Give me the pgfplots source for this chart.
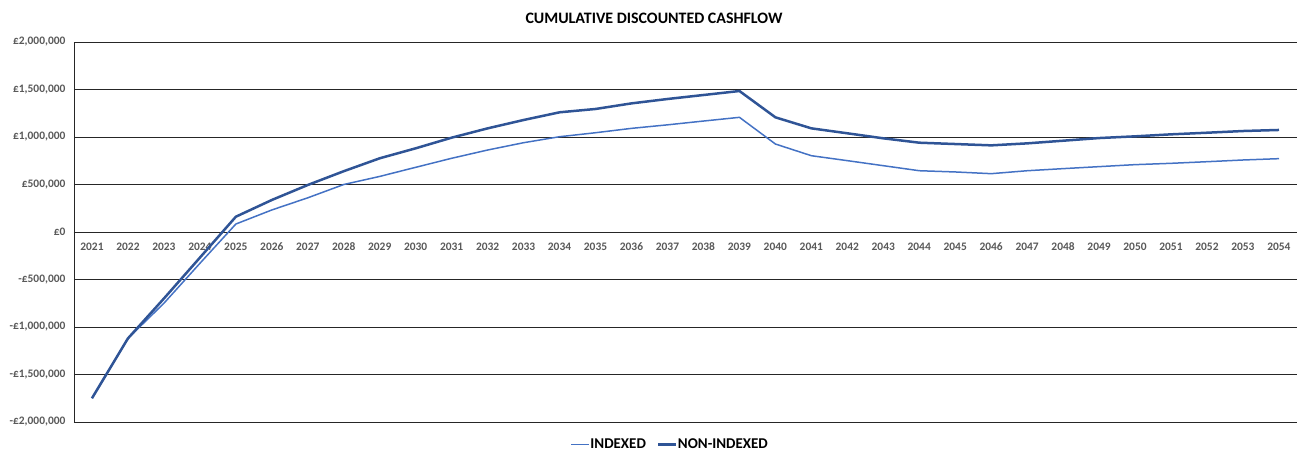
\documentclass[border=0pt]{standalone}
\usepackage{fontspec}
\setmainfont{Carlito}
\usepackage{pgfplots}
\pgfplotsset{compat=1.18}
\definecolor{lightline}{HTML}{4472C4}
\definecolor{darkline}{HTML}{2F5496}
\definecolor{ticktext}{HTML}{595959}
\begin{document}
\begin{tikzpicture}
\begin{axis}[
  scale only axis,
  width=1223bp, height=380bp,
  xmin=2020.5, xmax=2054.5,
  ymin=-2000000, ymax=2000000,
  scaled ticks=false,
  axis x line=middle, axis y line=left,
  axis line style={-, black!85, line width=0.8bp},
  xtick={2021,...,2054},
  ytick={-2000000,-1500000,-1000000,-500000,0,500000,1000000,1500000,2000000},
  yticklabels={{-£2,000,000},{-£1,500,000},{-£1,000,000},{-£500,000},{£0},{£500,000},{£1,000,000},{£1,500,000},{£2,000,000}},
  major tick length=0pt,
  ymajorgrids,
  grid style={black!85, line width=0.8bp},
  /pgf/number format/assume math mode=true,
  /pgf/number format/1000 sep={},
  xticklabel style={font=\fontsize{11.5}{12}\selectfont\bfseries, text=ticktext, yshift=-7bp},
  yticklabel style={font=\fontsize{11.5}{12}\selectfont\bfseries, text=ticktext, xshift=-5bp},
  legend style={at={(axis description cs:0.487,0)}, anchor=north, yshift=-16bp, draw=none,
    inner sep=0pt, outer sep=0pt,
    font=\fontsize{15}{16}\selectfont\bfseries, legend columns=2,
    nodes={inner sep=1bp},
    /tikz/every even column/.append style={column sep=10bp}},
  legend image code/.code={\draw[#1] (0cm,0cm) -- (0.62cm,0cm);},
  clip=false,
]
\addplot[lightline, line width=1.5bp, line join=round] coordinates {
(2021,-1750000) (2022,-1120000) (2023,-750000) (2024,-330000) (2025,84000)
(2026,232000) (2027,360000) (2028,500000) (2029,585000) (2030,681000)
(2031,776000) (2032,863000) (2033,940000) (2034,1003000) (2035,1045000)
(2036,1091000) (2037,1128000) (2038,1168000) (2039,1207000) (2040,926000)
(2041,803000) (2042,751000) (2043,698000) (2044,645000) (2045,632000)
(2046,614000) (2047,645000) (2048,667000) (2049,688000) (2050,709000)
(2051,723000) (2052,740000) (2053,758000) (2054,772000)
};
\addlegendentry{INDEXED}
\addplot[darkline, line width=2.5bp, line join=round] coordinates {
(2021,-1750000) (2022,-1120000) (2023,-700000) (2024,-270000) (2025,161000)
(2026,337000) (2027,495000) (2028,640000) (2029,776000) (2030,881000)
(2031,993000) (2032,1091000) (2033,1179000) (2034,1260000) (2035,1295000)
(2036,1354000) (2037,1400000) (2038,1442000) (2039,1484000) (2040,1207000)
(2041,1091000) (2042,1039000) (2043,986000) (2044,940000) (2045,926000)
(2046,912000) (2047,933000) (2048,961000) (2049,989000) (2050,1007000)
(2051,1028000) (2052,1045000) (2053,1063000) (2054,1074000)
};
\addlegendentry{NON-INDEXED}
\end{axis}
\node[font=\fontsize{16}{18}\selectfont\bfseries, text=black] at (580bp,404bp) {CUMULATIVE DISCOUNTED CASHFLOW};
\pgfresetboundingbox
\path (-74bp,-30bp) rectangle (1230bp,422bp);
\end{tikzpicture}
\end{document}
